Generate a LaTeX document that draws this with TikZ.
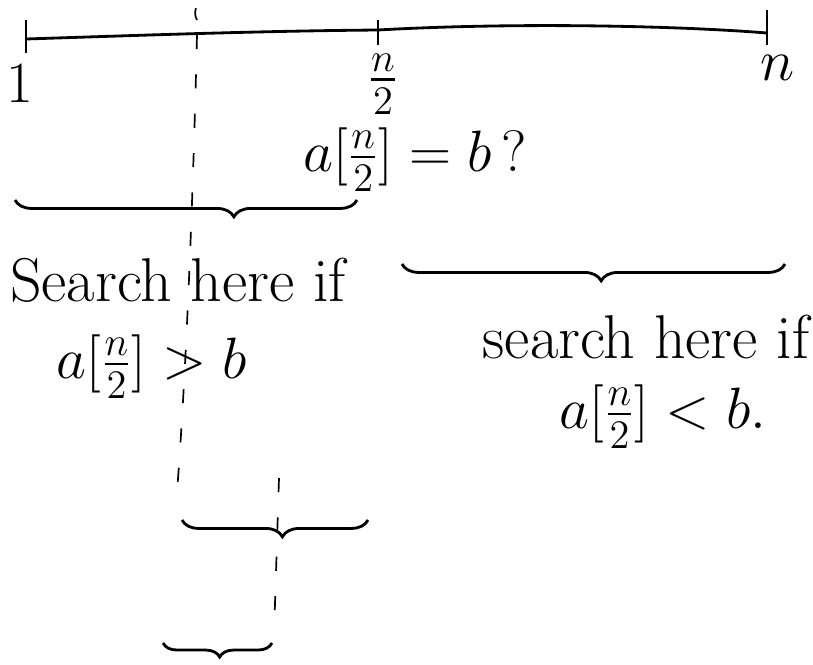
\documentclass[tikz,border=0pt]{standalone}
\usepackage{amsmath}
\usepackage{tikz}
\usetikzlibrary{positioning, decorations.pathreplacing}

\begin{document}
\begin{tikzpicture}[x=0.0125cm, y=-0.0125cm, line width=1pt,
    lbl/.style={font=\fontsize{22}{26}\selectfont},
    split/.style={decorate, decoration={brace, mirror, amplitude=6pt, #1}},
    guide/.style={line width=0.6pt, dash pattern=on 5pt off 9pt}]
        \useasboundingbox (0,0) rectangle (813,664);
        % Zahlenstrahl
        \coordinate (lo) at (26,39);
        \coordinate (mid) at (378,30);
        \coordinate (hi) at (767,33);
        \draw (lo) .. controls (150,35) and (260,31) .. (mid)
              .. controls (520,22) and (680,26) .. (hi);
        \draw (26,20) -- (26,53);
        \draw (378,20) -- (378,45);
        \draw (767,10) -- (767,45);
        \draw[line width=0.6pt] (197,20) arc[start angle=150, end angle=200, radius=14];
        \node[lbl] (one) at (20,84) {$1$};
        \node[lbl] (half) at (383,84) {$\frac{n}{2}$};
        \node[lbl] (en) at (778,68) {$n$};
        \node[lbl] (test) at (415,160) {$a[\frac{n}{2}]=b\,?$};
        % Haelften
        \coordinate (b1l) at (15,200);
        \coordinate (b1r) at (357,200);
        \draw[split={aspect=0.64}] (b1l) -- (b1r);
        \coordinate (b2l) at (402,264);
        \coordinate (b2r) at (785,264);
        \draw[split={aspect=0.52}] (b2l) -- (b2r);
        \node[lbl] (lefttxt) at (178,280) {Search here if};
        \node[lbl] (leftcond) at (152,367) {$a[\frac{n}{2}] > b$};
        \node[lbl] (righttxt) at (646,337) {search here if};
        \node[lbl] (rightcond) at (663,417) {$a[\frac{n}{2}] < b.$};
        % weiter unten
        \draw[guide] (197,35) .. controls (193,200) and (186,380) .. (176,505);
        \coordinate (b3l) at (182,520);
        \coordinate (b3r) at (368,520);
        \draw[split={aspect=0.54}] (b3l) -- (b3r);
        \draw[guide] (279,478) -- (274,635);
        \coordinate (b4l) at (163,643);
        \coordinate (b4r) at (272,643);
        \draw[split={aspect=0.52, amplitude=5pt}] (b4l) -- (b4r);
\end{tikzpicture}
\end{document}
